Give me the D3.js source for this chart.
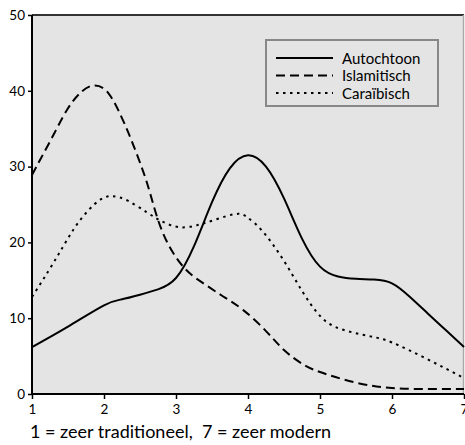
<!DOCTYPE html>
<html>
<head>
<meta charset="utf-8">
<script src="https://cdn.jsdelivr.net/npm/d3@7"></script>
<style>
  html, body { margin: 0; padding: 0; background: #fff; }
  svg { display: block; font-family: Lato, "Noto Sans", sans-serif; }
  text { white-space: pre; }
</style>
</head>
<body>
<svg id="chart" width="465" height="445"></svg>
<script>
// Score on the scale 1 (zeer traditioneel) .. 7 (zeer modern), percentage per group
const autochtoonX = [1, 1.5, 2, 2.25, 2.5, 2.75, 3, 3.25, 3.5, 3.75, 4, 4.25, 4.5, 4.75, 5, 5.25, 5.5, 5.75, 6, 6.25, 6.5, 6.75, 7];
const autochtoonY = [6.2, 8.9, 11.7, 12.5, 13.1, 13.8, 15.3, 19.5, 25.3, 29.8, 31.5, 30.0, 25.8, 20.5, 16.8, 15.5, 15.2, 15.1, 14.6, 12.8, 10.6, 8.4, 6.2];

const islamitischX = [1, 1.13, 1.31, 1.5, 1.69, 1.87, 2.06, 2.24, 2.38, 2.52, 2.64, 2.82, 3.1, 3.38, 3.65, 3.93, 4.25, 4.5, 4.75, 5, 5.5, 6, 6.5, 7];
const islamitischY = [28.9, 31.2, 34.4, 37.7, 39.9, 40.7, 39.7, 36.6, 33.5, 30.0, 26.5, 21.2, 16.8, 14.6, 12.9, 11.1, 8.3, 5.8, 4.0, 2.9, 1.5, 0.8, 0.65, 0.65];

const caraibischX = [1, 1.22, 1.41, 1.59, 1.78, 1.96, 2.12, 2.33, 2.59, 2.8, 3.05, 3.38, 3.8, 3.99, 4.2, 4.49, 4.75, 5, 5.28, 5.7, 6, 6.49, 7];
const caraibischY = [12.8, 16.1, 19.1, 21.9, 24.2, 25.7, 26.1, 25.5, 24.0, 22.8, 22.0, 22.5, 23.7, 23.3, 21.5, 17.7, 13.6, 10.3, 8.6, 7.6, 6.8, 4.6, 2.1];

const seriesNames = ["Autochtoon", "Islamitisch", "Caraïbisch"];
const xTicks = [1, 2, 3, 4, 5, 6, 7];
const yTicks = [0, 10, 20, 30, 40, 50];
const xTitle = "1 = zeer traditioneel,  7 = zeer modern";

const series = [
  { name: seriesNames[0], xs: autochtoonX, ys: autochtoonY, dash: null },
  { name: seriesNames[1], xs: islamitischX, ys: islamitischY, dash: "9,5" },
  { name: seriesNames[2], xs: caraibischX, ys: caraibischY, dash: "2.5,4.5" }
];

const svg = d3.select("#chart");
const plotL = 32, plotR = 464, plotT = 15, plotB = 394;

const x = d3.scaleLinear().domain([1, 7]).range([plotL, plotR]);
const y = d3.scaleLinear().domain([0, 50]).range([plotB, plotT]);

// plot background
svg.append("rect")
  .attr("x", plotL).attr("y", plotT)
  .attr("width", plotR - plotL).attr("height", plotB - plotT)
  .attr("fill", "#e4e4e4");

// top and right frame
svg.append("line").attr("x1", plotL).attr("x2", plotR).attr("y1", plotT).attr("y2", plotT)
  .attr("stroke", "#333").attr("stroke-width", 2);
svg.append("line").attr("x1", plotR - 0.5).attr("x2", plotR - 0.5).attr("y1", plotT).attr("y2", plotB)
  .attr("stroke", "#aaa").attr("stroke-width", 1.5);

// curves
const line = d3.line()
  .x(d => x(d[0]))
  .y(d => y(d[1]))
  .curve(d3.curveNatural);

series.forEach(s => {
  const pts = s.xs.map((v, i) => [v, s.ys[i]]);
  svg.append("path")
    .attr("d", line(pts))
    .attr("fill", "none")
    .attr("stroke", "#000")
    .attr("stroke-width", 2)
    .attr("stroke-dasharray", s.dash);
});

// axes
const yAxis = d3.axisLeft(y).tickValues(yTicks).tickSize(4).tickPadding(3).tickFormat(d3.format("d"));
const yg = svg.append("g").attr("transform", `translate(${plotL},0)`).call(yAxis);
yg.select(".domain").attr("stroke", "#000").attr("stroke-width", 2).attr("d", `M0,${plotT}V${plotB + 1}`);
yg.selectAll(".tick line").attr("stroke", "#000").attr("stroke-width", 1.5);
yg.selectAll(".tick text").attr("font-size", 13.5).attr("fill", "#000").attr("font-family", "Lato, 'Noto Sans', sans-serif");

const xAxis = d3.axisBottom(x).tickValues(xTicks).tickSize(5).tickPadding(5).tickFormat(d3.format("d"));
const xg = svg.append("g").attr("transform", `translate(0,${plotB})`).call(xAxis);
xg.select(".domain").attr("stroke", "#000").attr("stroke-width", 2).attr("d", `M${plotL - 1},0H${plotR}`);
xg.selectAll(".tick line").attr("stroke", "#000").attr("stroke-width", 1.5);
xg.selectAll(".tick text").attr("font-size", 13.5).attr("fill", "#000").attr("font-family", "Lato, 'Noto Sans', sans-serif");

// axis title
svg.append("text")
  .attr("x", 30).attr("y", 438)
  .attr("font-size", 18)
  .attr("fill", "#000")
  .text(xTitle);

// legend
const lg = svg.append("g");
lg.append("rect")
  .attr("x", 266).attr("y", 40)
  .attr("width", 172).attr("height", 66)
  .attr("fill", "#e4e4e4")
  .attr("stroke", "#888").attr("stroke-width", 2);

series.forEach((s, i) => {
  const cy = 58 + i * 17.5;
  lg.append("line")
    .attr("x1", 276).attr("x2", 333)
    .attr("y1", cy).attr("y2", cy)
    .attr("stroke", "#000").attr("stroke-width", 2)
    .attr("stroke-dasharray", s.dash);
  lg.append("text")
    .attr("x", 342).attr("y", cy + 5.5)
    .attr("font-size", 15)
    .attr("fill", "#000")
    .text(s.name);
});
</script>
</body>
</html>
